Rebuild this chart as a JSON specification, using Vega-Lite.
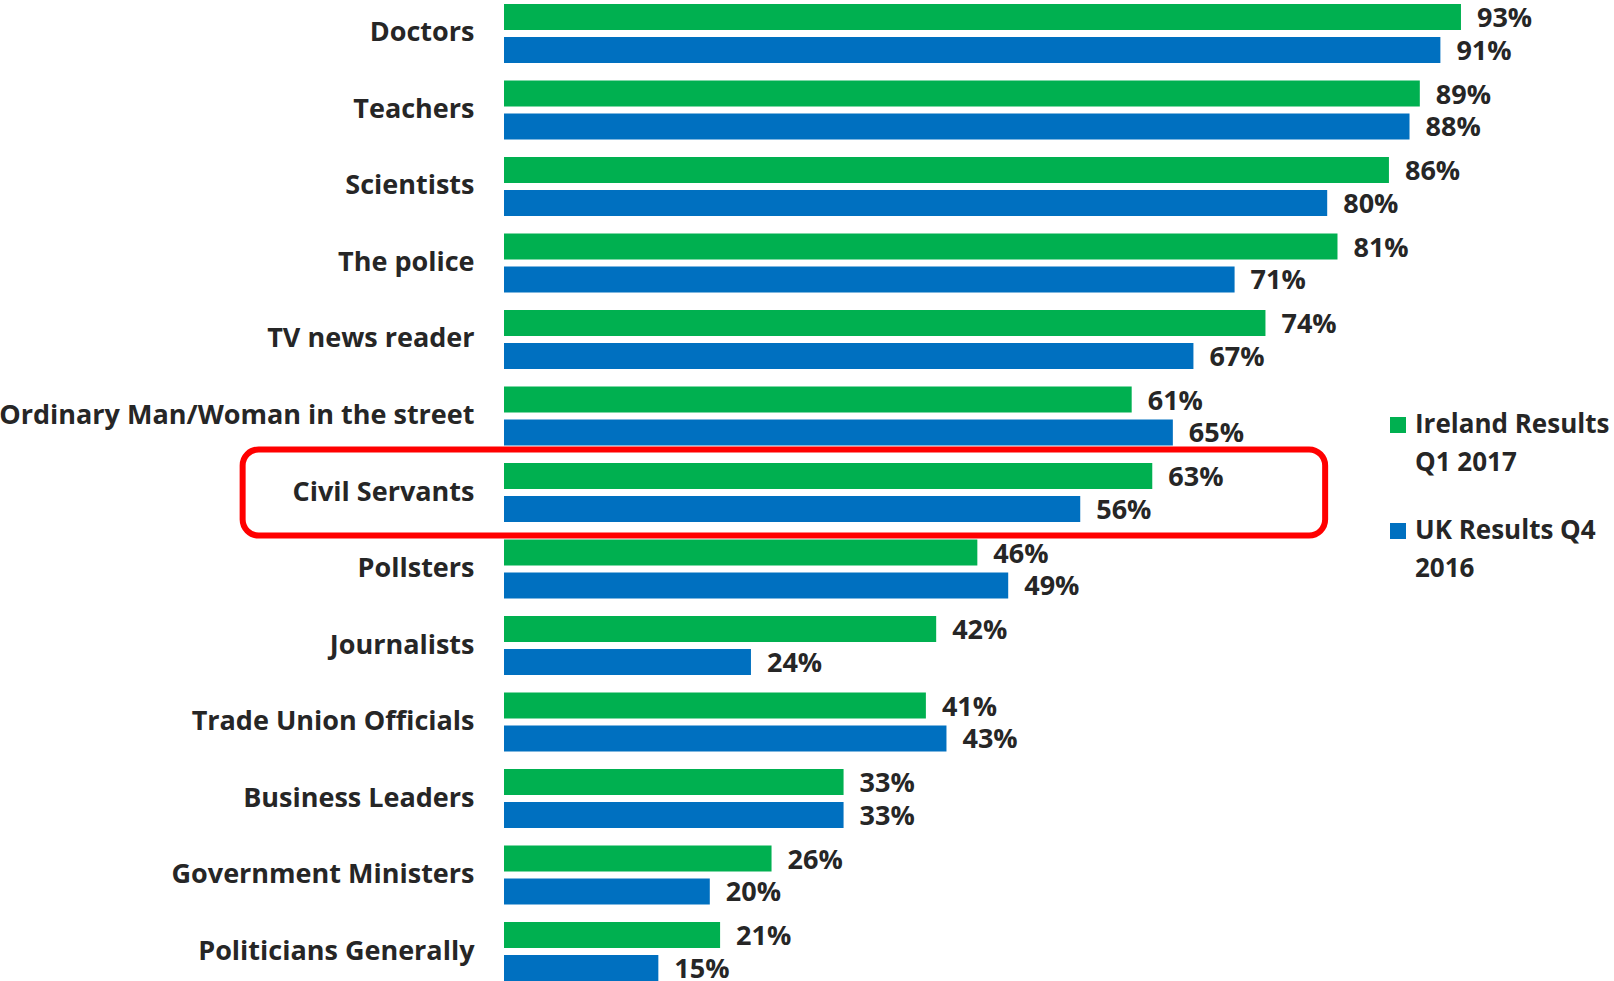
{
  "$schema": "https://vega.github.io/schema/vega-lite/v6.json",
  "width": 1029,
  "height": 977,
  "autosize": {"type": "none"},
  "padding": {"left": 504, "top": 4, "right": 81, "bottom": 0},
  "background": "white",
  "config": {"view": {"stroke": null}, "font": "Open Sans"},
  "datasets": {
    "main": [
      {"category": "Doctors", "series": "Ireland Results Q1 2017", "value": 93},
      {"category": "Doctors", "series": "UK Results Q4 2016", "value": 91},
      {"category": "Teachers", "series": "Ireland Results Q1 2017", "value": 89},
      {"category": "Teachers", "series": "UK Results Q4 2016", "value": 88},
      {"category": "Scientists", "series": "Ireland Results Q1 2017", "value": 86},
      {"category": "Scientists", "series": "UK Results Q4 2016", "value": 80},
      {"category": "The police", "series": "Ireland Results Q1 2017", "value": 81},
      {"category": "The police", "series": "UK Results Q4 2016", "value": 71},
      {"category": "TV news reader", "series": "Ireland Results Q1 2017", "value": 74},
      {"category": "TV news reader", "series": "UK Results Q4 2016", "value": 67},
      {"category": "Ordinary Man/Woman in the street", "series": "Ireland Results Q1 2017", "value": 61},
      {"category": "Ordinary Man/Woman in the street", "series": "UK Results Q4 2016", "value": 65},
      {"category": "Civil Servants", "series": "Ireland Results Q1 2017", "value": 63},
      {"category": "Civil Servants", "series": "UK Results Q4 2016", "value": 56},
      {"category": "Pollsters", "series": "Ireland Results Q1 2017", "value": 46},
      {"category": "Pollsters", "series": "UK Results Q4 2016", "value": 49},
      {"category": "Journalists", "series": "Ireland Results Q1 2017", "value": 42},
      {"category": "Journalists", "series": "UK Results Q4 2016", "value": 24},
      {"category": "Trade Union Officials", "series": "Ireland Results Q1 2017", "value": 41},
      {"category": "Trade Union Officials", "series": "UK Results Q4 2016", "value": 43},
      {"category": "Business Leaders", "series": "Ireland Results Q1 2017", "value": 33},
      {"category": "Business Leaders", "series": "UK Results Q4 2016", "value": 33},
      {"category": "Government Ministers", "series": "Ireland Results Q1 2017", "value": 26},
      {"category": "Government Ministers", "series": "UK Results Q4 2016", "value": 20},
      {"category": "Politicians Generally", "series": "Ireland Results Q1 2017", "value": 21},
      {"category": "Politicians Generally", "series": "UK Results Q4 2016", "value": 15}
    ],
    "highlight": [
      {"category": "Civil Servants", "start": -25.4, "end": 79.8}
    ]
  },
  "layer": [
    {
      "data": {"name": "highlight"},
      "mark": {"type": "rect", "filled": false, "stroke": "#FF0000", "strokeWidth": 6, "cornerRadius": 16, "height": {"band": 1.46}},
      "encoding": {
        "y": {"field": "category", "type": "nominal"},
        "x": {"field": "start", "type": "quantitative"},
        "x2": {"field": "end"}
      }
    },
    {
      "data": {"name": "main"},
      "mark": {"type": "bar"},
      "encoding": {
        "y": {"field": "category", "type": "nominal"},
        "yOffset": {"field": "series", "type": "nominal", "scale": {"paddingInner": 0.212, "paddingOuter": 0}},
        "x": {"field": "value", "type": "quantitative"},
        "color": {
          "field": "series",
          "type": "nominal",
          "scale": {"domain": ["Ireland Results Q1 2017", "UK Results Q4 2016"], "range": ["#00B050", "#0070C0"]},
          "legend": {
            "orient": "none",
            "legendX": 881,
            "legendY": 408,
            "title": null,
            "symbolType": "square",
            "symbolSize": 256,
            "symbolStrokeWidth": 0,
            "symbolOpacity": 1,
            "labelFont": "Open Sans",
            "labelFontSize": 26,
            "labelFontWeight": "bold",
            "labelColor": "#262626",
            "labelOffset": 4,
            "labelLimit": 0,
            "rowPadding": 42,
            "labelExpr": "datum.label == 'Ireland Results Q1 2017' ? ['Ireland Results', 'Q1 2017'] : ['UK Results Q4', '2016']",
            "encode": {"labels": {"update": {"lineHeight": {"value": 38}}}}
          }
        }
      }
    },
    {
      "data": {"name": "main"},
      "transform": [{"calculate": "datum.value + '%'", "as": "label"}],
      "mark": {"type": "text", "align": "left", "baseline": "middle", "dx": 16, "dy": 2, "font": "Open Sans", "fontSize": 27, "fontWeight": "bold", "color": "#262626"},
      "encoding": {
        "y": {"field": "category", "type": "nominal"},
        "yOffset": {"field": "series", "type": "nominal"},
        "x": {"field": "value", "type": "quantitative"},
        "text": {"field": "label"}
      }
    }
  ],
  "resolve": {"scale": {"yOffset": "shared"}},
  "encoding": {
    "y": {
      "field": "category",
      "type": "nominal",
      "scale": {
        "domain": ["Doctors", "Teachers", "Scientists", "The police", "TV news reader", "Ordinary Man/Woman in the street", "Civil Servants", "Pollsters", "Journalists", "Trade Union Officials", "Business Leaders", "Government Ministers", "Politicians Generally"],
        "paddingInner": 0.2288,
        "paddingOuter": 0
      },
      "axis": {
        "title": null,
        "domain": false,
        "ticks": false,
        "labelPadding": 30,
        "labelFont": "Open Sans",
        "labelFontSize": 27,
        "labelFontWeight": "bold",
        "labelColor": "#262626",
        "labelLimit": 0
      }
    },
    "x": {
      "field": "value",
      "type": "quantitative",
      "scale": {"domain": [0, 100], "nice": false, "zero": true},
      "axis": null
    }
  }
}
